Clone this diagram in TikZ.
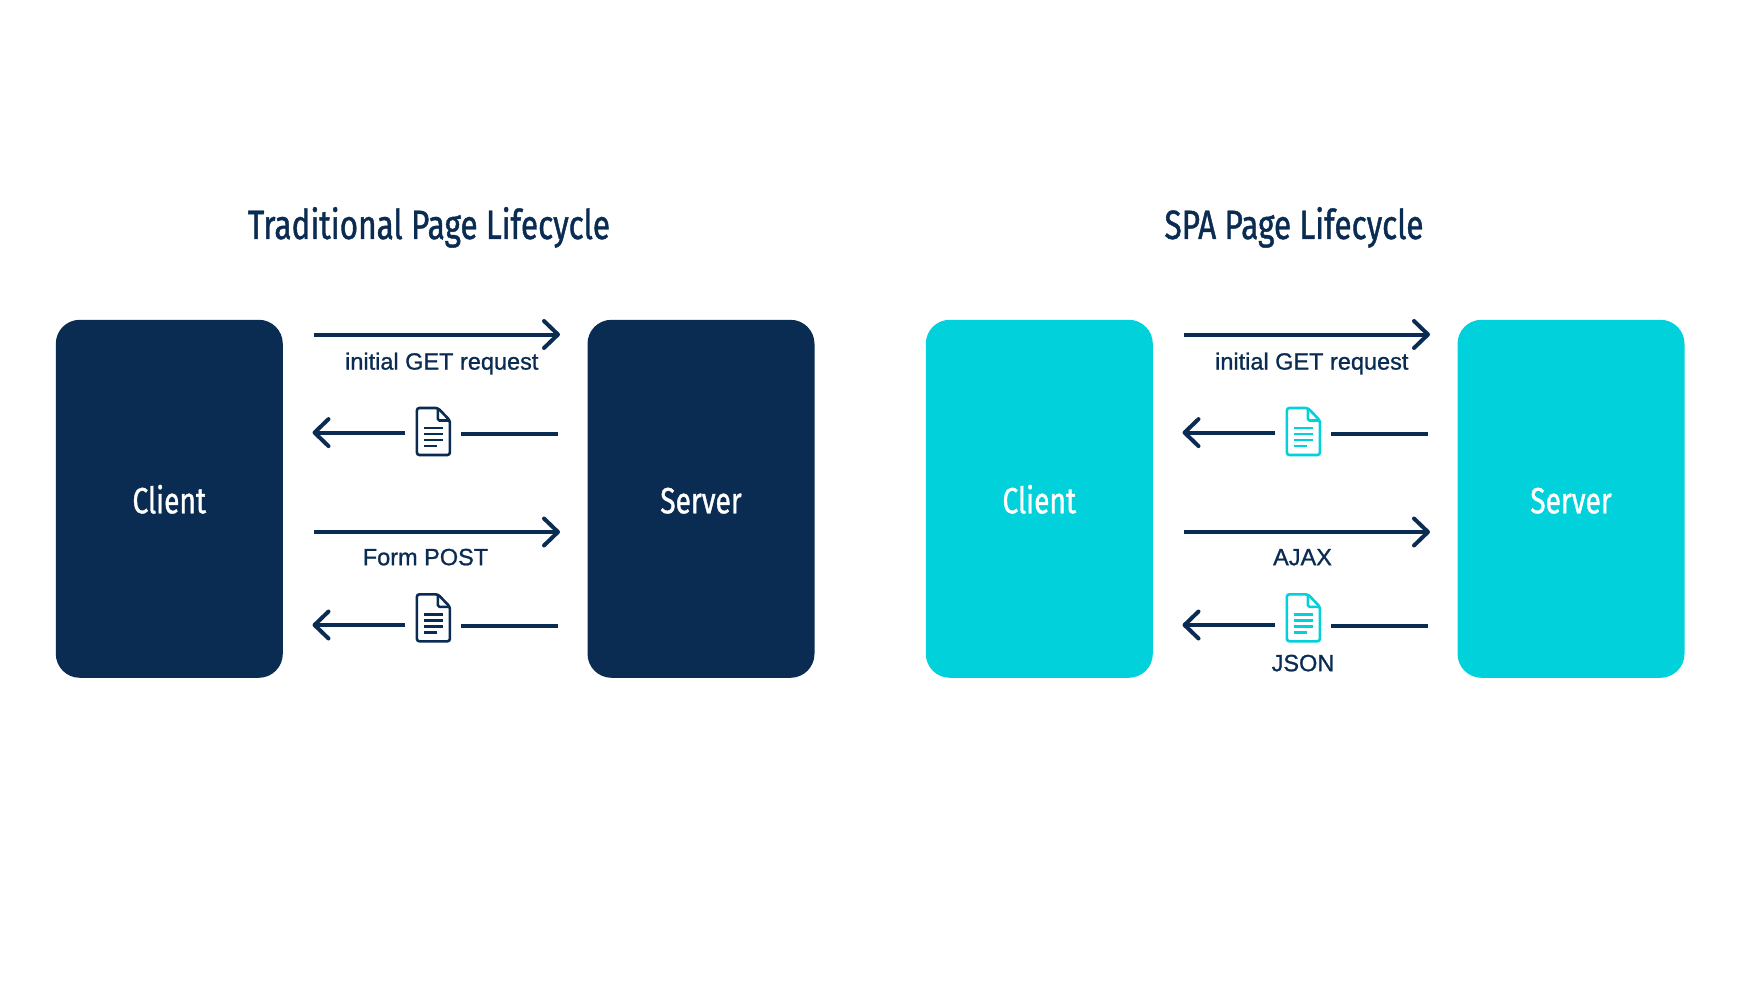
\documentclass[tikz,border=0pt]{standalone}
\usepackage{fontspec}
\usetikzlibrary{arrows.meta}
\setmainfont{Liberation Sans}
\newfontfamily\headfont[FakeStretch=0.77,FakeBold=1.0]{Fira Sans}
\newfontfamily\capfont[FakeBold=1.0]{Liberation Sans}
\definecolor{navy}{HTML}{0A2C52}
\definecolor{teal}{HTML}{00D1DB}
\tikzset{
  x=1pt,y=-1pt,
  panel/.style={rounded corners=24pt,minimum width=227pt,minimum height=358pt,inner sep=0pt,text=white,
     font=\headfont\fontsize{36.5}{37}\selectfont,text height=29pt,text depth=0pt},
  heading/.style={anchor=base,text=navy,font=\headfont\fontsize{41}{41}\selectfont,inner sep=0pt},
  caption/.style={anchor=base,text=navy,font=\capfont\fontsize{23.5}{24}\selectfont,inner sep=0pt},
  link/.style={draw=navy,line width=4pt,line cap=butt},
  headed/.style={link,-{Straight Barb[length=14pt,width=27pt,round,line width=4pt]}},
  docspot/.style={minimum width=33pt,minimum height=47pt,inner sep=0pt},
}
\newcommand{\docicon}[4]{% name, x, y, colour
  \node[docspot] (#1) at (#2,#3) {};
  \begin{scope}[shift={(#2,#3)},draw=#4,line width=2.6pt]
    \draw[rounded corners=2.5pt] (-16.5,-23.5) -- (4.5,-23.5) -- (16.5,-11) -- (16.5,23.5) -- (-16.5,23.5) -- cycle;
    \draw[rounded corners=1.5pt] (4.5,-23.5) -- (4.5,-11) -- (16.5,-11);
    \draw[line width=2.8pt] (-9,-3.5) -- (9.5,-3.5) (-9,2.5) -- (9.5,2.5) (-9,8.5) -- (9.5,8.5) (-9,14.5) -- (4,14.5);
  \end{scope}
}
\newcommand{\lifecycle}[6]{% x offset, colour, prefix, req2 label, req2 x, bottom label
  \begin{scope}[shift={(#1,0)}]
    \node[panel,fill=#2] (#3client) at (169.3,498.8) {Client};
    \node[panel,fill=#2] (#3server) at (701,498.8) {Server};
    \coordinate (#3a) at (314,334.5); \coordinate (#3b) at (560,334.5);
    \draw[headed] (#3a) -- (#3b);
    \node[caption] (#3lab) at (441.8,369.6) {initial GET request};
    \docicon{#3doca}{433.4}{431.5}{#2}
    \coordinate (#3c) at (405,432.6); \coordinate (#3d) at (312.5,432.6);
    \draw[headed] (#3c) -- (#3d);
    \coordinate (#3e) at (461,433.6); \coordinate (#3f) at (558,433.6);
    \draw[link] (#3e) -- (#3f);
    \coordinate (#3g) at (314,532); \coordinate (#3h) at (560,532);
    \draw[headed] (#3g) -- (#3h);
    \node[caption] (#3labb) at (#5,565.2) {#4};
    \docicon{#3docb}{433.4}{617.8}{#2}
    \coordinate (#3i) at (405,625); \coordinate (#3j) at (312.5,625);
    \draw[headed] (#3i) -- (#3j);
    \coordinate (#3k) at (461,626); \coordinate (#3l) at (558,626);
    \draw[link] (#3k) -- (#3l);
    #6
  \end{scope}
}
\begin{document}
\begin{tikzpicture}
  \useasboundingbox (0,0) rectangle (1740,1000);
  \fill[white] (0,0) rectangle (1740,1000);
  \node[heading] (tleft) at (429,239) {Traditional Page Lifecycle};
  \node[heading] (tright) at (1294,239) {SPA Page Lifecycle};
  \lifecycle{0}{navy}{p}{Form POST}{425.5}{}
  \lifecycle{870}{teal}{q}{AJAX}{432.5}{\node[caption] (qlabc) at (433,671.2) {JSON};}
\end{tikzpicture}
\end{document}
